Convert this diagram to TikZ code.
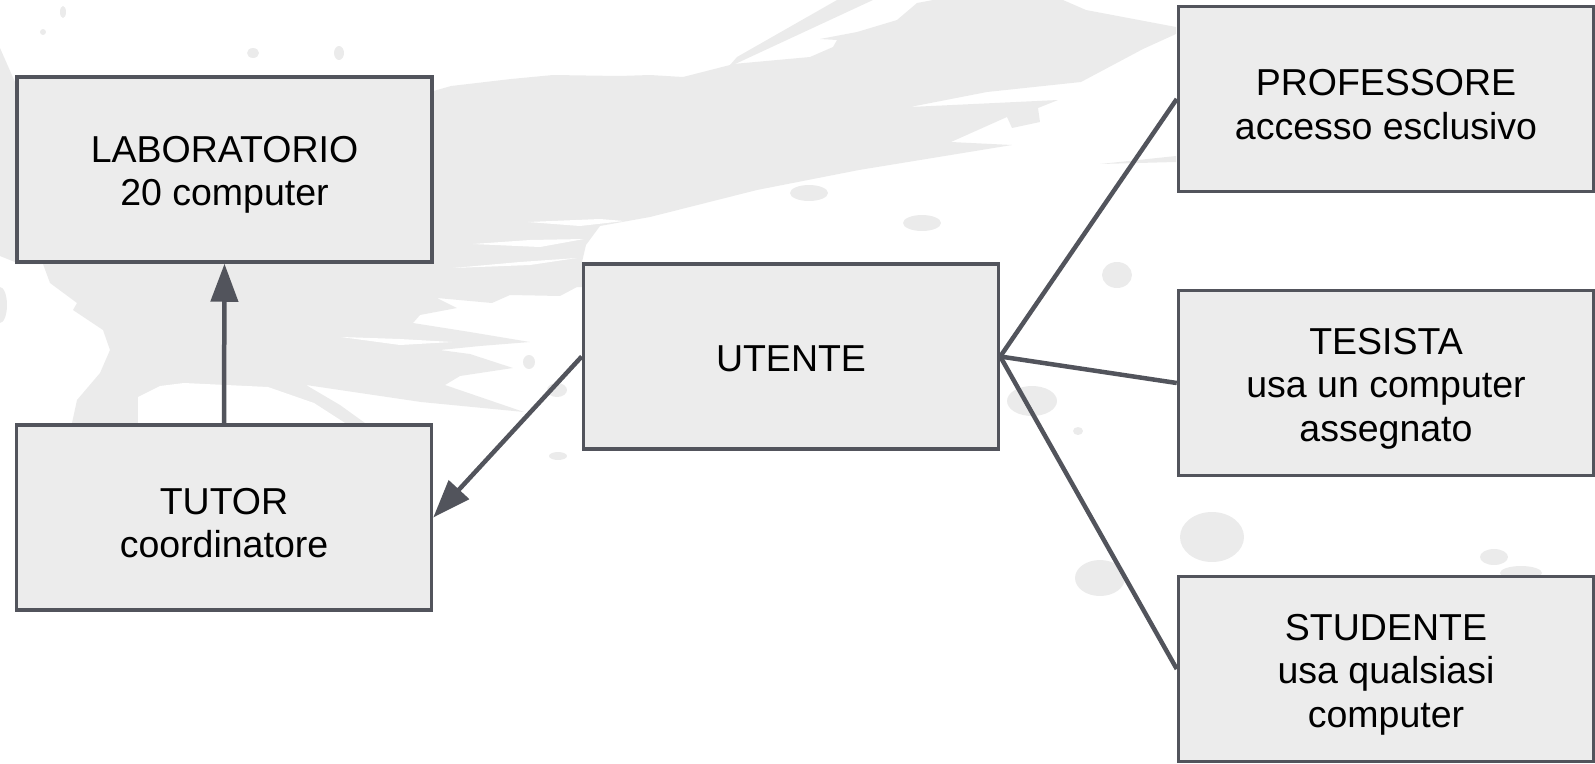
\documentclass[tikz,border=0pt]{standalone}
\usepackage{fontspec}
\setmainfont{Liberation Sans}
\usetikzlibrary{arrows.meta}

\definecolor{edge}{RGB}{82,84,92}
\definecolor{boxfill}{RGB}{236,236,236}
\definecolor{splash}{RGB}{235,235,235}

% struts that lower the text block a little inside its box
\newcommand{\lowtwo}{\rule{0pt}{37pt}}
\newcommand{\lowone}{\rule{0pt}{31pt}}

\tikzset{
  box/.style={draw=edge, fill=boxfill, line width=3.5pt,
    minimum width=415pt, minimum height=185pt, inner sep=0pt,
    align=center, font=\fontsize{37.5}{43.5}\selectfont},
  link/.style={draw=edge, line width=4.5pt},
  tip/.style={-{Triangle[length=38pt,width=27pt]}},
  paint/.style={fill=splash, draw=none}
}

\begin{document}
\begin{tikzpicture}[x=1pt,y=-1pt]
\useasboundingbox (0,0) rectangle (1595,763);

% ---- brush-stroke background ----
% main stroke: broad band across the top and the body under the left boxes
\fill[paint] (15,95) -- (430,92) -- (451,86) -- (511,79) -- (553,75) -- (619,76)
  -- (650,75) -- (683,77) -- (730,65) -- (733,64) -- (810,57) -- (833,47)
  -- (837,40) -- (820,39) -- (857,32) -- (897,20) -- (917,3) -- (933,0)
  -- (1063,0) -- (1086,10) -- (1176,27) -- (1176,34) -- (1143,49) -- (1081,82)
  -- (987,92) -- (910,107) -- (1058,100) -- (1038,108) -- (1040,122)
  -- (1012,128) -- (1007,117) -- (951,142) -- (1012,145) -- (859,170)
  -- (757,190) -- (650,217) -- (600,226) -- (586,245) -- (582,262)
  -- (582,287) -- (577,287) -- (560,296) -- (510,295) -- (492,303)
  -- (437,298) -- (457,308) -- (420,315) -- (413,323) -- (470,332)
  -- (530,342) -- (480,346) -- (440,350) -- (470,354) -- (513,368)
  -- (460,376) -- (445,385) -- (524,412) -- (421,402) -- (306,385)
  -- (340,405) -- (365,423) -- (72,423) -- (77,400) -- (100,373)
  -- (110,350) -- (103,330) -- (73,310) -- (77,303) -- (50,283)
  -- (43,264) -- (15,264) -- cycle;
% thin sliver above the band
\fill[paint] (730,65) -- (737,57) -- (837,0) -- (873,0) -- (733,65) -- cycle;
% thin light streaks inside the stroke
\fill[white] (528,222) -- (600,219) -- (624,221) -- (580,226) -- cycle;
\fill[white] (473,244) -- (530,240) -- (584,239) -- (540,247) -- cycle;
\fill[white] (453,268) -- (520,262) -- (577,258) -- (530,265) -- cycle;
\fill[white] (341,337) -- (400,339) -- (452,342) -- (400,345) -- cycle;
% gap inside the lower body
\fill[white] (138,423) -- (138,397) -- (160,386) -- (184,383) -- (268,387)
  -- (314,403) -- (345,423) -- cycle;
% strip near the upper right box
\fill[paint] (1100,164) -- (1176,156) -- (1176,162) -- cycle;
% left edge strokes
\fill[paint] (0,48) -- (15,82) -- (15,262) -- (0,256) -- cycle;
\fill[paint] (0,305) ellipse [x radius=7, y radius=18];
% scattered drops
\fill[paint] (63,12) ellipse [x radius=3, y radius=6];
\fill[paint] (43,32) circle [radius=3];
\fill[paint] (253,53) ellipse [x radius=6, y radius=5];
\fill[paint] (339,53) ellipse [x radius=5, y radius=7];
\fill[paint] (529,362) ellipse [x radius=6, y radius=7];
\fill[paint] (557,390) ellipse [x radius=10, y radius=7];
\fill[paint] (809,193) ellipse [x radius=19, y radius=8];
\fill[paint] (922,223) ellipse [x radius=19, y radius=8];
\fill[paint] (1117,275) ellipse [x radius=15, y radius=13];
\fill[paint] (1032,401) ellipse [x radius=25, y radius=15];
\fill[paint] (1078,431) ellipse [x radius=5, y radius=4];
\fill[paint] (558,456) ellipse [x radius=9, y radius=4];
\fill[paint] (1212,537) ellipse [x radius=32, y radius=25];
\fill[paint] (1100,578) ellipse [x radius=25, y radius=18];
\fill[paint] (1494,557) ellipse [x radius=14, y radius=8];
\fill[paint] (1521,573) ellipse [x radius=21, y radius=7];

% ---- boxes ----
\node[box] (lab)    at (224.5,169.5) {\lowtwo LABORATORIO\\20 computer};
\node[box] (tutor)  at (224,517.5)   {\lowtwo TUTOR\\coordinatore};
\node[box] (utente) at (791,356.5)   {\lowone UTENTE};
\node[box] (prof)   at (1386,99)     {\lowtwo PROFESSORE\\accesso esclusivo};
\node[box] (tes)    at (1386,383)    {\lowtwo TESISTA\\usa un computer\\assegnato};
\node[box] (stud)   at (1386,669)    {\lowtwo STUDENTE\\usa qualsiasi\\computer};

% ---- connectors ----
\draw[link,tip] (tutor.north) -- (lab.south);
\draw[link,tip] (utente.west) -- (tutor.east);
\draw[link] (utente.east) -- (prof.west);
\draw[link] (utente.east) -- (tes.west);
\draw[link] (utente.east) -- (stud.west);
\end{tikzpicture}
\end{document}
